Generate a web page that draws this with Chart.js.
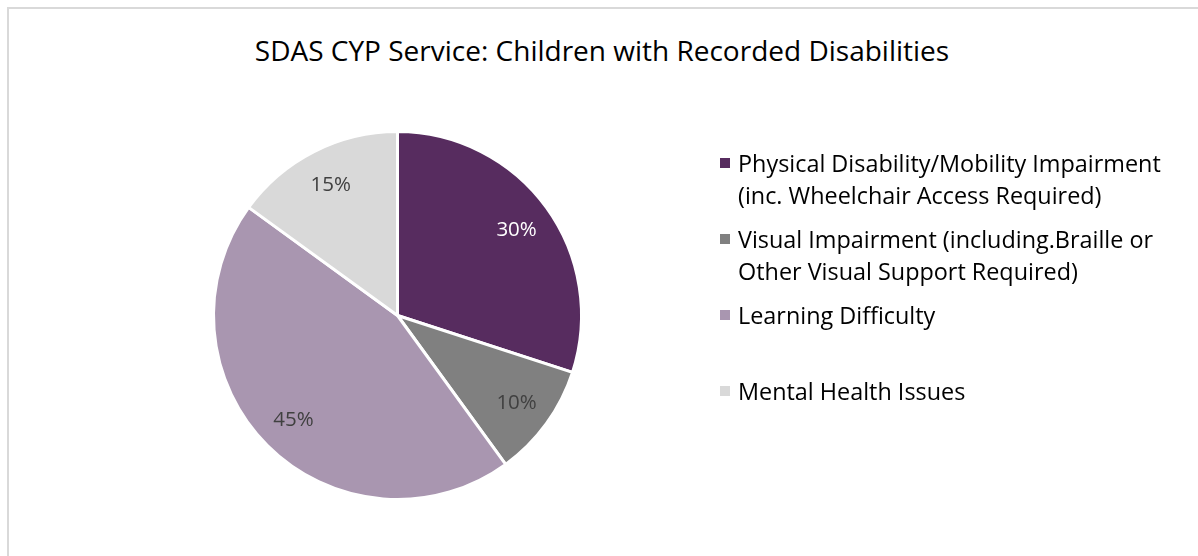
<!DOCTYPE html>
<html>
<head>
<meta charset="utf-8">
<script src="https://cdn.jsdelivr.net/npm/chart.js@4/dist/chart.umd.min.js"></script>
<style>
    html, body { margin: 0; padding: 0; background: #fff; }
    body { width: 1198px; height: 556px; overflow: hidden; position: relative; font-family: "Open Sans", sans-serif; }
    #frame { position: absolute; left: 7px; top: 7px; width: 1300px; height: 700px; border: 2px solid #d9d9d9; box-sizing: border-box; }
    #title { position: absolute; left: 0; width: 1204px; top: 31px; text-align: center; font-size: 28px; color: #000; line-height: 38px; }
    #chart-wrap { position: absolute; left: 0; top: 0; width: 1198px; height: 556px; }
    #legend { position: absolute; left: 718px; top: 147px; width: 468px; }
    .legend-item { position: relative; height: 76px; padding-left: 20px; font-size: 23.4px; line-height: 32px; color: #000; }
    .legend-box { position: absolute; left: 2px; top: 11px; width: 10px; height: 10px; }
</style>
</head>
<body>
<div id="frame"></div>
<div id="title"></div>
<div id="chart-wrap"><canvas id="pie" width="1198" height="556"></canvas></div>
<div id="legend"></div>

<script>
// data
const chartTitle = 'SDAS CYP Service: Children with Recorded Disabilities';
const categories = [
    'Physical Disability/Mobility Impairment (inc. Wheelchair Access Required)',
    'Visual Impairment (including.Braille or Other Visual Support Required)',
    'Learning Difficulty',
    'Mental Health Issues'
];
const shares = [30, 10, 45, 15];
const sliceColors = ['#572c5f', '#808080', '#a996b0', '#d9d9d9'];
const labelColors = ['#ffffff', '#404040', '#404040', '#404040'];

document.getElementById('title').textContent = chartTitle;

// legend in HTML so long names can wrap like the original
const legendEl = document.getElementById('legend');
categories.forEach((name, i) => {
    const item = document.createElement('div');
    item.className = 'legend-item';
    item.innerHTML = `<span class="legend-box" style="background:${sliceColors[i]}"></span>${name}`;
    legendEl.appendChild(item);
});

// percent labels inside the slices
const sliceLabels = {
    id: 'sliceLabels',
    afterDatasetsDraw(chart) {
        const ctx = chart.ctx;
        const meta = chart.getDatasetMeta(0);
        const total = shares.reduce((a, b) => a + b, 0);
        ctx.save();
        ctx.font = '20.5px "Open Sans", sans-serif';
        ctx.textAlign = 'center';
        ctx.textBaseline = 'middle';
        meta.data.forEach((arc, i) => {
            const p = arc.getProps(['x', 'y', 'startAngle', 'endAngle', 'outerRadius']);
            const mid = (p.startAngle + p.endAngle) / 2;
            const r = p.outerRadius * 0.8;
            ctx.fillStyle = labelColors[i];
            ctx.fillText(Math.round(shares[i] / total * 100) + '%', p.x + Math.cos(mid) * r, p.y + Math.sin(mid) * r + 1);
        });
        ctx.restore();
    }
};

new Chart(document.getElementById('pie'), {
    type: 'pie',
    data: {
        labels: categories,
        datasets: [{
            data: shares,
            backgroundColor: sliceColors,
            borderColor: '#ffffff',
            borderWidth: 3,
            hoverOffset: 0,
            offset: 0
        }]
    },
    options: {
        responsive: false,
        animation: false,
        events: [],
        layout: {
            padding: { left: 212, right: 615, top: 130, bottom: 55 }
        },
        plugins: {
            legend: { display: false },
            title: { display: false },
            tooltip: { enabled: false }
        }
    },
    plugins: [sliceLabels]
});
</script>
</body>
</html>
